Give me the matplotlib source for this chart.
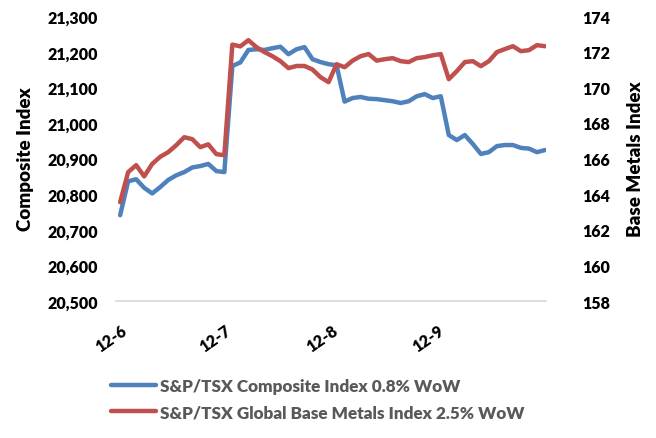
import matplotlib.pyplot as plt
import numpy as np

plt.rcParams['font.family'] = ['Lato', 'DejaVu Sans']

# intraday readings, Dec 6 - Dec 9
composite = [20741, 20836, 20842, 20818, 20802, 20820, 20840, 20853, 20862, 20875,
             20879, 20885, 20865, 20862,
             21160, 21170, 21205, 21207, 21205, 21210, 21214, 21193, 21207, 21213,
             21179, 21171, 21165,
             21162, 21060, 21070, 21073, 21068, 21067, 21064, 21061, 21056, 21061,
             21075, 21081, 21070, 21075,
             20966, 20952, 20966, 20941, 20913, 20918, 20935, 20938, 20938, 20930,
             20928, 20918, 20924]
base_metals = [163.55, 165.24, 165.63, 165.0, 165.7, 166.1, 166.36, 166.75, 167.2, 167.09,
               166.64, 166.8, 166.25, 166.19,
               172.4, 172.3, 172.65, 172.26, 171.98, 171.75, 171.47, 171.08, 171.2, 171.2,
               171.0, 170.57, 170.29,
               171.3, 171.13, 171.5, 171.75, 171.87, 171.5, 171.58, 171.64, 171.47, 171.42,
               171.64, 171.7, 171.8, 171.87,
               170.46, 170.91, 171.42, 171.47, 171.19, 171.47, 171.98, 172.15, 172.31, 172.03,
               172.09, 172.37, 172.31]
day_labels = ['12-6', '12-7', '12-8', '12-9']
day_ticks = [0, 13.1, 26.4, 39.6]

blue = '#4F81BD'
red = '#C0504D'

fig = plt.figure(figsize=(6.56, 4.39), dpi=100)
ax = fig.add_axes([0.177, 0.312, 0.655, 0.649])
ax2 = ax.twinx()

x = np.arange(len(composite))
l1, = ax.plot(x, composite, color=blue, lw=3.2, solid_capstyle='round',
              label='S&P/TSX Composite Index 0.8% WoW')
l2, = ax2.plot(x, base_metals, color=red, lw=3.2, solid_capstyle='round',
               label='S&P/TSX Global Base Metals Index 2.5% WoW')

ax.set_xlim(-0.5, 53.1)
ax.set_ylim(20500, 21300)
ax.set_yticks(np.arange(20500, 21301, 100))
ax.set_yticklabels([f'{v:,}' for v in range(20500, 21301, 100)])
ax2.set_ylim(158, 174)
ax2.set_yticks(np.arange(158, 175, 2))

ax.set_xticks(day_ticks)
ax.set_xticklabels(day_labels, rotation=35, ha='right', rotation_mode='anchor')

for a in (ax, ax2):
    for s in a.spines.values():
        s.set_visible(False)
    a.tick_params(length=0, labelsize=11.5)
    for lab in a.get_yticklabels() + a.get_xticklabels():
        lab.set_fontweight('heavy')
ax.spines['bottom'].set_visible(True)
ax.spines['bottom'].set_color('#d9d9d9')
ax.spines['bottom'].set_linewidth(1.2)
ax.tick_params(axis='y', pad=13)
ax2.tick_params(axis='y', pad=26)
ax.tick_params(axis='x', pad=15)

ax.set_ylabel('Composite Index', fontsize=13.5, fontweight='heavy', labelpad=10)
ax2.set_ylabel('Base Metals Index', fontsize=13.5, fontweight='heavy', labelpad=12)

leg = fig.legend(handles=[l1, l2], loc='upper left', bbox_to_anchor=(0.146, 0.172),
                 frameon=False, fontsize=12.3, handlelength=2.6, labelspacing=0.6,
                 handletextpad=0.25)
for t in leg.get_texts():
    t.set_color('#595959')
    t.set_fontweight('heavy')

fig.savefig('out.png', dpi=100)
